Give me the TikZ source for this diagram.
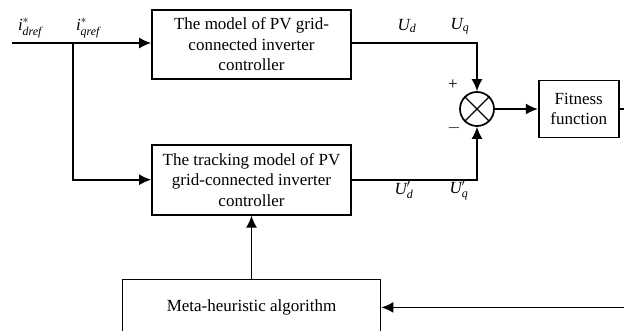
\documentclass[tikz,border=0pt]{standalone}
\usepackage{amsmath}
\usepackage{fontspec}
\setmainfont{Liberation Serif}
\usetikzlibrary{arrows.meta, positioning}

\begin{document}
\begin{tikzpicture}[
    x=1pt, y=-1pt,
    line width=1.7pt,
    font=\fontsize{17}{20.5}\selectfont,
    box/.style={rectangle, draw, align=center, inner sep=0pt, minimum width=199pt, minimum height=69pt},
    sum/.style={circle, draw, minimum size=34pt, inner sep=0pt},
    sig/.style={inner sep=1pt},
    arrow/.style={-{Latex[length=12pt, width=11pt]}}
]
\useasboundingbox (0,0) rectangle (624,331);
\clip (0,0) rectangle (624,331);

\node[box] (model) at (251.5,44.5) {The model of PV grid-\\connected inverter\\controller};
\node[box, minimum height=70pt, below=64pt of model] (track) {The tracking model of PV\\grid-connected inverter\\controller};
\node[sum] (cmp) at (477,109) {};
\draw[line width=1.4pt] (cmp.north west) -- (cmp.south east) (cmp.north east) -- (cmp.south west);
\node[box, minimum width=80pt, minimum height=57pt, right=43pt of cmp] (fit) {Fitness\\function};
\node[box, minimum width=258pt, minimum height=56pt, below=63pt of track] (meta) {Meta-heuristic algorithm};

\coordinate (in) at (12,43);
\coordinate (split) at (73,43);

\node[sig] (id) at (30,28) {$\textit{i}^{*}_{\textit{dref}}$};
\node[sig] (iq) at (88,28) {$\textit{i}^{*}_{\textit{qref}}$};
\node[sig] (ud) at (407,26) {$\textit{U}_{\textit{d}}$};
\node[sig] (uq) at (460,26) {$\textit{U}_{\textit{q}}$};
\node[sig] (udt) at (404,190) {$\textit{U}^{\prime}_{\textit{d}}$};
\node[sig] (uqt) at (459,190) {$\textit{U}^{\prime}_{\textit{q}}$};
\node (plus) at (453,85) {+};
\node (minus) at (454,128) {$-$};

\draw[arrow] (in) -- (model.west |- in);
\draw[arrow] (split) |- (track.west);
\draw[arrow] (model.east |- in) -| (cmp.north);
\draw[arrow] (track.east) -| (cmp.south);
\draw[arrow] (cmp.east) -- (fit.west |- cmp.east);
\draw[arrow] (meta.north -| track.south) -- (track.south);
\draw[arrow] (fit.east) -- ++(25,0) |- (meta.east);
\end{tikzpicture}
\end{document}
